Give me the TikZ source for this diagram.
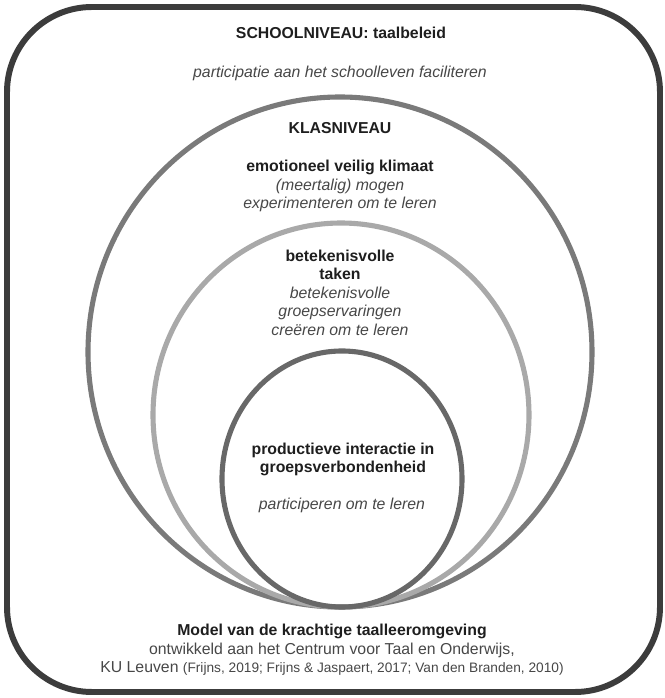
\documentclass[tikz,border=0pt]{standalone}
\usepackage{fontspec}
\setmainfont{Liberation Sans}
\definecolor{kader}{HTML}{3C3C3C}
\definecolor{klasrand}{HTML}{7A7A7A}
\definecolor{takenrand}{HTML}{A9A9A9}
\definecolor{kernrand}{HTML}{686868}
\definecolor{kopkleur}{HTML}{1E1E1E}
\definecolor{uitlegkleur}{HTML}{474747}
\newcommand{\kop}[1]{{\color{kopkleur}\upshape\bfseries #1}}
\begin{document}
\begin{tikzpicture}[
        every node/.style={align=center, inner sep=0pt, text=uitlegkleur,
            font=\fontsize{9}{10.5}\selectfont},
        uitleg/.style={font=\fontsize{9}{10.5}\selectfont\itshape},
        ring/.style={line width=2.9pt}
    ]
        \useasboundingbox (0,0) rectangle (13.3,13.96);

        % Draw frame and rings
        \draw [line width=3.4pt, draw=kader, rounded corners=1.7cm] (0.14,0.12) rectangle (13.2,13.82);
        \draw [ring, draw=klasrand] (6.8,6.92) ellipse (5.04cm and 5.1cm);
        \draw [ring, draw=takenrand] (6.82,5.66) ellipse (3.76cm and 3.84cm);
        \draw [ring, draw=kernrand] (6.84,4.38) ellipse (2.4cm and 2.56cm);

        % Schoolniveau
        \node (school) at (6.82,13.3) {\kop{SCHOOLNIVEAU: taalbeleid}};
        \node[uitleg] (schooldoel) at (6.8,12.5) {participatie aan het schoolleven faciliteren};

        % Klasniveau
        \node (klas) at (6.8,11.4) {\kop{KLASNIVEAU}};
        \node[uitleg] (klimaat) at (6.8,10.24)
            {\kop{emotioneel veilig klimaat}\\(meertalig) mogen\\experimenteren om te leren};
        \node[uitleg] (taken) at (6.8,8.11)
            {\kop{betekenisvolle}\\\kop{taken}\\betekenisvolle\\groepservaringen\\creëren om te leren};
        \node (interactie) at (6.86,4.77)
            {\kop{productieve interactie in}\\\kop{groepsverbondenheid}};
        \node[uitleg] (participeren) at (6.84,3.86) {participeren om te leren};

        % Bron
        \node (model) at (6.64,0.96)
            {\kop{Model van de krachtige taalleeromgeving}\\
             ontwikkeld aan het Centrum voor Taal en Onderwijs,\\
             KU Leuven {\fontsize{7.8}{10.5}\selectfont(Frijns, 2019; Frijns \& Jaspaert, 2017; Van den Branden, 2010)}};
    \end{tikzpicture}
\end{document}
